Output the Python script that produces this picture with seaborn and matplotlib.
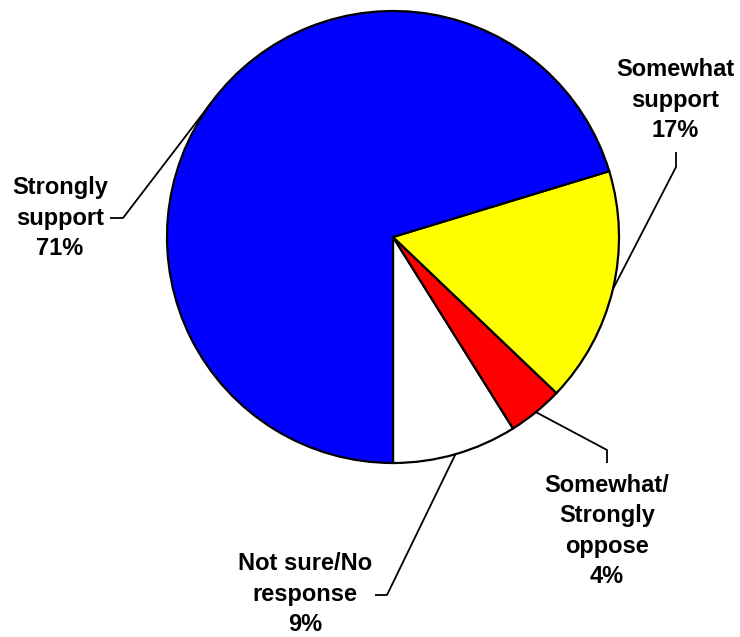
import numpy as np
import matplotlib
matplotlib.use('Agg')
import matplotlib.pyplot as plt
import seaborn as sns

# ── Data ──────────────────────────────────────────────────────────────────────
labels = ['Not sure/No\nresponse', 'Somewhat/\nStrongly\noppose',
          'Somewhat\nsupport', 'Strongly\nsupport']
shares = [9, 4, 17, 71]
colors = ['#FFFFFF', '#FF0000', '#FFFF00', '#0000FF']

# ── Layout (pixel space, y measured from the bottom) ─────────────────────────
W, H = 740, 637
CENTER = (393, H - 237)
RADIUS = 226
# text centre, elbow point, line end near the text
label_layout = [
    dict(text=(305, H - 594), elbow=(387, H - 595), end=(375, H - 595)),
    dict(text=(607, H - 531), elbow=(607, H - 450), end=(607, H - 463)),
    dict(text=(675, H - 100), elbow=(676, H - 167), end=(676, H - 152)),
    dict(text=(60, H - 218), elbow=(123, H - 218), end=(110, H - 218)),
]

sns.set_theme(style='white')
plt.rcParams['font.family'] = ['Liberation Sans', 'DejaVu Sans']

fig = plt.figure(figsize=(W / 100, H / 100), dpi=100)
ax = fig.add_axes([0, 0, 1, 1])

wedges, _ = ax.pie(shares, colors=colors, startangle=270, counterclock=True,
                   center=CENTER, radius=RADIUS, frame=True,
                   wedgeprops=dict(edgecolor='black', linewidth=1.6))
ax.set_xlim(0, W)
ax.set_ylim(0, H)
ax.set_aspect('equal')
ax.axis('off')

for w, lab, pct, lay in zip(wedges, labels, shares, label_layout):
    mid = np.deg2rad((w.theta1 + w.theta2) / 2)
    sx = CENTER[0] + RADIUS * np.cos(mid)
    sy = CENTER[1] + RADIUS * np.sin(mid)
    ax.plot([sx, lay['elbow'][0], lay['end'][0]],
            [sy, lay['elbow'][1], lay['end'][1]],
            color='black', linewidth=1.3, solid_capstyle='butt')
    ax.text(lay['text'][0], lay['text'][1], f'{lab}\n{pct}%',
            ha='center', va='center', multialignment='center',
            fontsize=17, fontweight='bold', linespacing=1.4, color='black')

plt.savefig('out.png', dpi=100)
